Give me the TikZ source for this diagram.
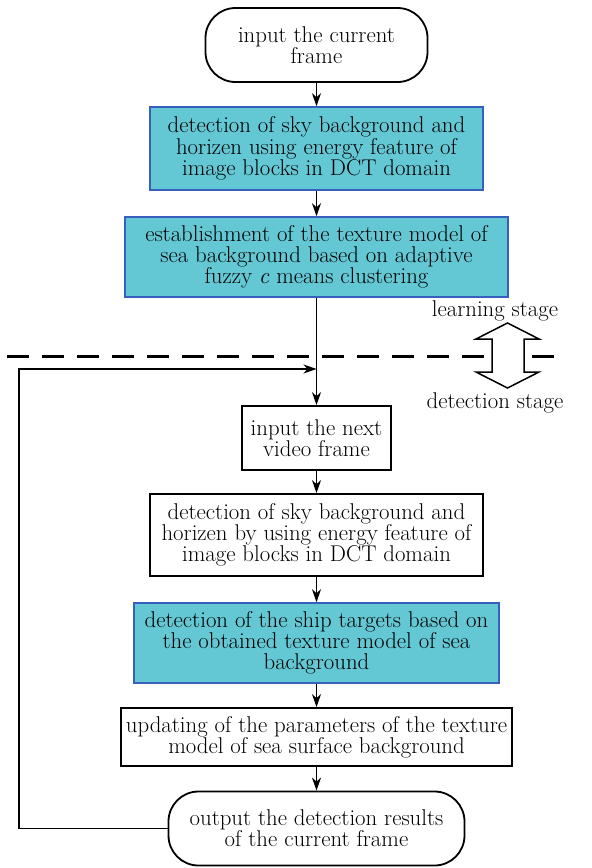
\documentclass[tikz,border=0pt]{standalone}
\usepackage{fontspec}
\setmainfont{Latin Modern Roman}
\usetikzlibrary{arrows.meta}
\definecolor{cyanfill}{RGB}{99,199,212}
\definecolor{blueborder}{RGB}{55,95,190}
\begin{document}
\begin{tikzpicture}[x=1pt,y=-1pt,
  base/.style={align=center, font=\fontsize{22.8}{21.3}\selectfont, inner sep=0pt},
  plainbox/.style={base, draw=black, line width=1.8pt, fill=white},
  cyanbox/.style={base, draw=blueborder, line width=1.6pt, fill=cyanfill},
  terminal/.style={base, draw=black, line width=1.8pt, rounded corners=30pt, fill=white},
  flow/.style={line width=1.4pt, -{Stealth[length=13pt,width=9pt,inset=4pt]}},
  stagearrow/.style={draw=black, fill=white, line width=1.5pt, line join=miter},
  divider/.style={line width=3pt, dash pattern=on 22pt off 13pt}
]
\useasboundingbox (0,0) rectangle (592,868);

\node[terminal, minimum width=222pt, minimum height=74pt] (start) at (316.5,45) {input the current\\frame};
\node[cyanbox, minimum width=333pt, minimum height=83pt] (det1) at (316.5,148.5) {detection of sky background and\\horizen using energy feature of\\image blocks in DCT domain};
\node[cyanbox, minimum width=383pt, minimum height=80pt] (model) at (316.5,257) {establishment of the texture model of\\sea background based on adaptive\\fuzzy \textit{c} means clustering};
\node[plainbox, minimum width=149pt, minimum height=64pt] (next) at (316.5,438) {input the next\\video frame};
\node[plainbox, minimum width=333pt, minimum height=82pt] (det2) at (316.5,535) {detection of sky background and\\horizen by using energy feature of\\image blocks in DCT domain};
\node[cyanbox, minimum width=365pt, minimum height=80pt] (ship) at (316.5,643) {detection of the ship targets based on\\the obtained texture model of sea\\background};
\node[plainbox, minimum width=391pt, minimum height=58pt] (upd) at (316.5,737) {updating of the parameters of the texture\\model of sea surface background};
\node[terminal, minimum width=296pt, minimum height=74pt] (out) at (316.5,828.5) {output the detection results\\of the current frame};

% stage divider
\coordinate (dl) at (7,356);
\coordinate (dr) at (565,356);
\draw[divider] (dl) -- (dr);
\path[stagearrow] (507.5,323) -- (539,339) -- (524,339) -- (524,372) -- (539,372) -- (507.5,388)
  -- (476,372) -- (492,372) -- (492,339) -- (476,339) -- cycle;
\node[base] (learn) at (495,311) {learning stage};
\node[base] (detst) at (495,403) {detection stage};

% flow
\draw[flow] (start.south) -- (det1.north);
\draw[flow] (det1.south) -- (model.north);
\draw[flow] (model.south) -- (next.north);
\draw[flow] (next.south) -- (det2.north);
\draw[flow] (det2.south) -- (ship.north);
\draw[flow] (ship.south) -- (upd.north);
\draw[flow] (upd.south) -- (out.north);
\coordinate (fb) at (316.5,369);
\draw[flow] (out.west) -- ++(-148.5,0) |- (fb);
\end{tikzpicture}
\end{document}
